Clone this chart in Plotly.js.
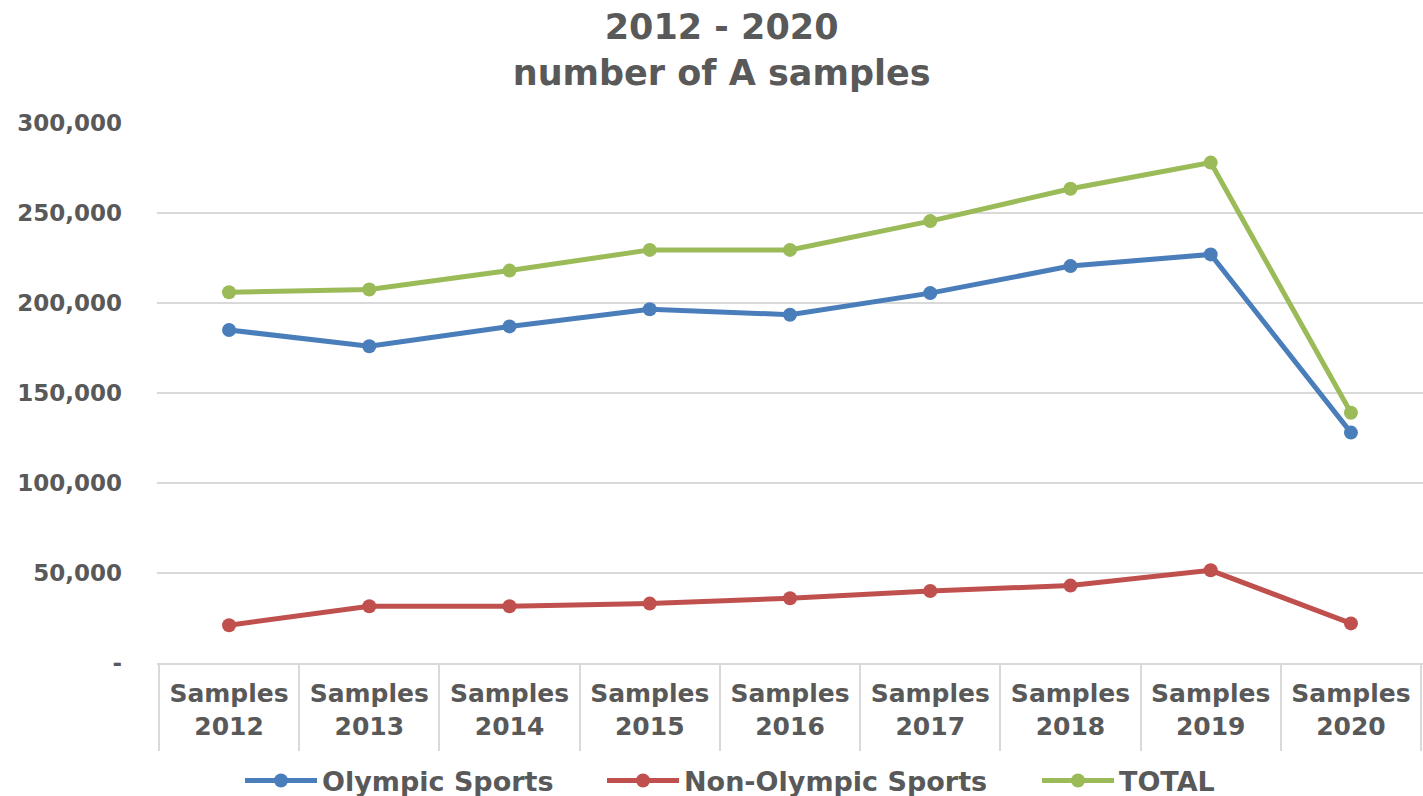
<!DOCTYPE html>
<html>
<head>
<meta charset="utf-8">
<script src="https://cdn.plot.ly/plotly-3.0.1.min.js"></script>
<style>
  html, body { margin: 0; padding: 0; background: #ffffff; }
  #chart { width: 1423px; height: 796px; }
</style>
</head>
<body>
<div id="chart"></div>
<script>
// ---- data ----
const categories = ["Samples<br>2012", "Samples<br>2013", "Samples<br>2014", "Samples<br>2015", "Samples<br>2016",
                    "Samples<br>2017", "Samples<br>2018", "Samples<br>2019", "Samples<br>2020"];
const olympicSports    = [185000, 176000, 187000, 196500, 193500, 205500, 220500, 227000, 128000];
const nonOlympicSports = [21000, 31500, 31500, 33000, 36000, 40000, 43000, 51500, 22000];
const totalSamples     = [206000, 207500, 218000, 229500, 229500, 245500, 263500, 278000, 139000];
const yTickVals  = [0, 50000, 100000, 150000, 200000, 250000, 300000];
const yTickText  = ["-", "50,000", "100,000", "150,000", "200,000", "250,000", "300,000"];
const seriesNames = ["Olympic Sports", "Non-Olympic Sports", "TOTAL"];
const titleLines = ["2012 - 2020", "number of A samples"];

// ---- styles ----
const textColor = "#595959";
const gridColor = "#d9d9d9";
const FONT = "DejaVu Sans, Arial, sans-serif";
const colors = ["#4a7ebb", "#c0504d", "#9bbb59"];
const legendIds = ["legend", "legend2", "legend3"];
const legendLeft = [240, 602, 1037];   // px from left of the page, one legend per series
const seriesData = [olympicSports, nonOlympicSports, totalSamples];

const traces = seriesData.map((vals, i) => ({
  type: "scatter",
  mode: "lines+markers",
  name: seriesNames[i],
  legend: legendIds[i],
  x: categories,
  y: vals,
  line: { color: colors[i], width: 5 },
  marker: { color: colors[i], size: 14, symbol: "circle" },
  hoverinfo: "x+y+name"
}));

const W = 1423, H = 796;
const layout = {
  width: W,
  height: H,
  paper_bgcolor: "#ffffff",
  plot_bgcolor: "#ffffff",
  margin: { l: 157, r: 0, t: 123, b: 133, autoexpand: false },
  font: { family: FONT, color: textColor },
  title: {
    text: titleLines.join("<br>"),
    font: { family: FONT, size: 35, color: textColor, weight: "bold" },
    x: 0.446,
    xanchor: "center",
    xref: "paper",
    yref: "container",
    y: 0.951,
    yanchor: "top"
  },
  xaxis: {
    type: "category",
    automargin: false,
    showgrid: false,
    showline: true,
    linecolor: gridColor,
    linewidth: 2,
    ticks: "outside",
    tickson: "boundaries",
    ticklen: 86,
    tickwidth: 2,
    tickcolor: gridColor,
    ticklabelstandoff: 7,
    tickfont: { family: FONT, size: 25, color: textColor, weight: "bold" },
    zeroline: false,
    fixedrange: true
  },
  yaxis: {
    range: [0, 300000],
    automargin: false,
    tickvals: yTickVals,
    ticktext: yTickText,
    showgrid: true,
    gridcolor: gridColor,
    gridwidth: 2,
    showline: false,
    zeroline: false,
    ticks: "",
    ticklabelstandoff: 34,
    tickfont: { family: FONT, size: 23, color: textColor, weight: "bold" },
    fixedrange: true
  },
  showlegend: true
};

legendIds.forEach((id, i) => {
  layout[id] = {
    orientation: "h",
    xref: "container",
    yref: "container",
    x: legendLeft[i] / W,
    xanchor: "left",
    y: 1 - 781 / H,
    yanchor: "middle",
    font: { family: FONT, size: 27, color: textColor, weight: "bold" },
    itemwidth: 72,
    bgcolor: "rgba(0,0,0,0)"
  };
});

Plotly.newPlot("chart", traces, layout, { displayModeBar: false, staticPlot: true });
</script>
</body>
</html>
